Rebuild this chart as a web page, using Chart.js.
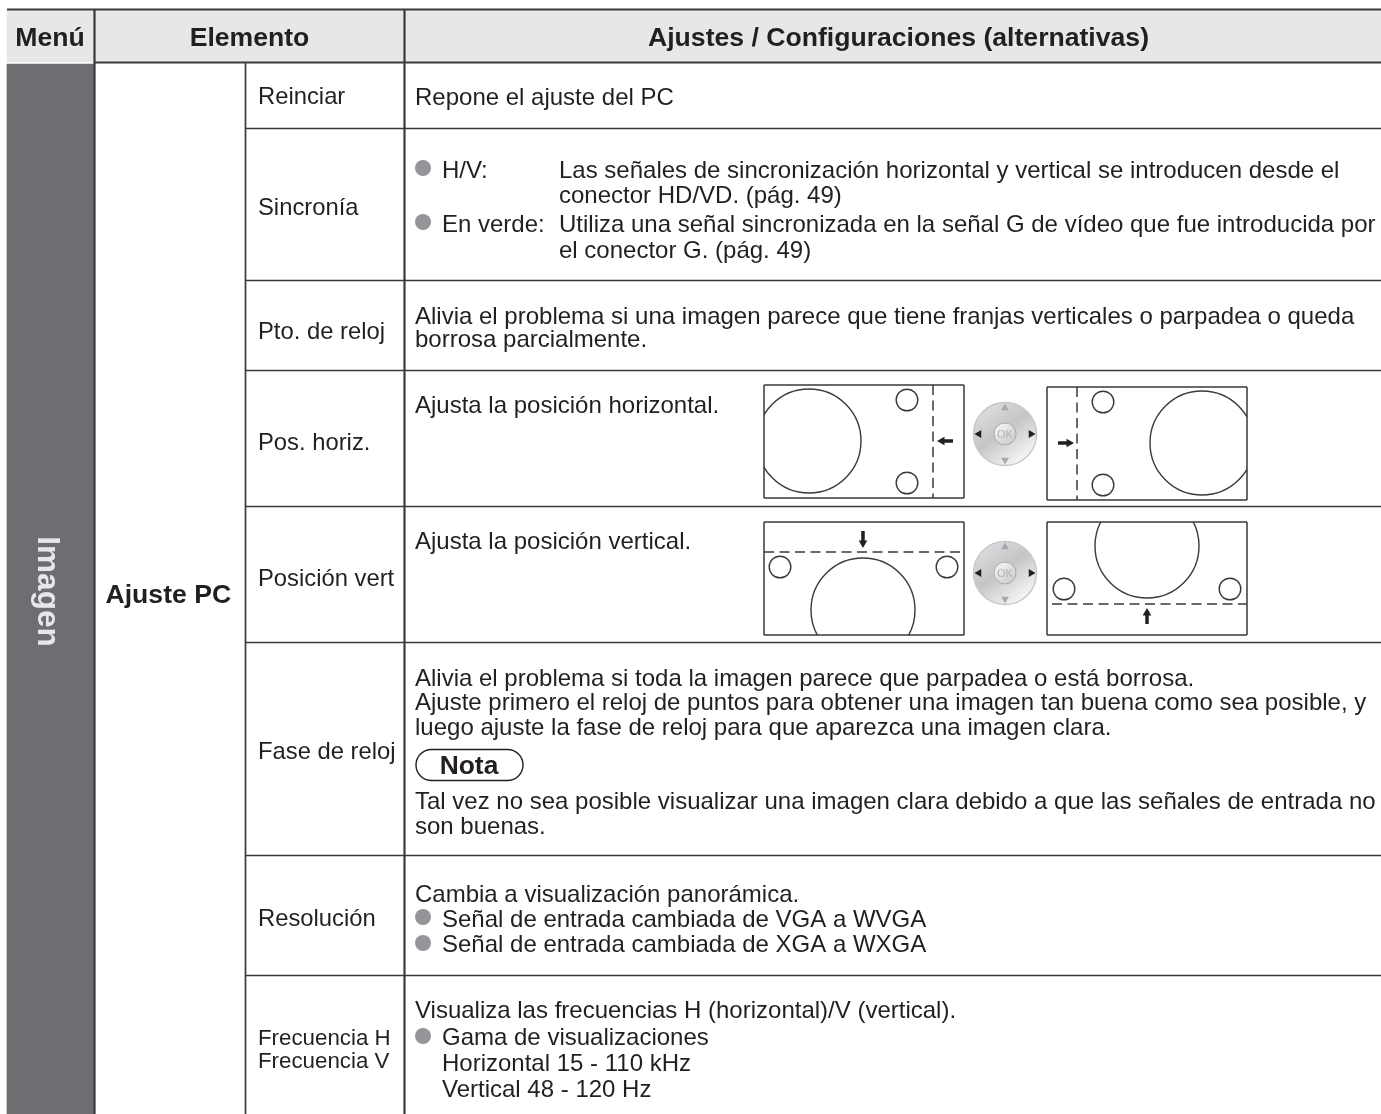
<!DOCTYPE html>
<html>
<head>
<meta charset="utf-8">
<title>Imagen - Ajuste PC</title>
<script src="https://cdn.jsdelivr.net/npm/chart.js@4"></script>
<style>
    body { margin: 0; background: #fff; }
    canvas { display: block; }
</style>
</head>
<body>
<canvas id="menuChart" width="1381" height="1114"></canvas>
<script>
// text of the table
const headerLabels = ['Menú', 'Elemento', 'Ajustes / Configuraciones (alternativas)'];
const menuLabel = 'Imagen';
const groupLabel = 'Ajuste PC';
const noteLabel = 'Nota';
const itemLabels = ['Reinciar', 'Sincronía', 'Pto. de reloj', 'Pos. horiz.', 'Posición vert', 'Fase de reloj', 'Resolución'];
const smallItemLabels = ['Frecuencia H', 'Frecuencia V'];
const detailLabels = [
    'Repone el ajuste del PC',
    'H/V:',
    'Las señales de sincronización horizontal y vertical se introducen desde el',
    'conector HD/VD. (pág. 49)',
    'En verde:',
    'Utiliza una señal sincronizada en la señal G de vídeo que fue introducida por',
    'el conector G. (pág. 49)',
    'Alivia el problema si una imagen parece que tiene franjas verticales o parpadea o queda',
    'borrosa parcialmente.',
    'Ajusta la posición horizontal.',
    'Ajusta la posición vertical.',
    'Alivia el problema si toda la imagen parece que parpadea o está borrosa.',
    'Ajuste primero el reloj de puntos para obtener una imagen tan buena como sea posible, y',
    'luego ajuste la fase de reloj para que aparezca una imagen clara.',
    'Tal vez no sea posible visualizar una imagen clara debido a que las señales de entrada no',
    'son buenas.',
    'Cambia a visualización panorámica.',
    'Señal de entrada cambiada de VGA a WVGA',
    'Señal de entrada cambiada de XGA a WXGA',
    'Visualiza las frecuencias H (horizontal)/V (vertical).',
    'Gama de visualizaciones',
    'Horizontal 15 - 110 kHz',
    'Vertical 48 - 120 Hz'
];

// where things sit on the x / y scales (both run in page pixels)
const headerX = [50, 249.5, 898.5];
const itemY = [97, 208, 332, 443, 579, 752, 919];
const smallItemY = [1039, 1062];
const detailX = [415, 442, 559, 559, 442, 559, 559, 415, 415, 415, 415, 415, 415, 415, 415, 415, 415, 442, 442, 415, 442, 442, 442];
const detailY = [98, 171, 171, 196, 225, 225, 251, 317, 340, 406, 542, 679, 703, 728, 802, 827, 895, 920, 945, 1011, 1038, 1064, 1090];
const bulletX = [423, 423, 423, 423, 423];
const bulletY = [168, 222, 917, 943, 1036];
const rowEdges = [128, 280, 370, 506, 642, 855, 975];

// picture frames: [left, top, right, bottom]
const frames = [[764, 385, 964, 498], [1047, 387, 1247, 500], [764, 522, 964, 635], [1047, 522, 1247, 635]];
const bigCircleX = [809, 1202, 863, 1147];
const bigCircleY = [441, 443, 610, 546];
const smallCircleX = [907, 907, 1103, 1103, 780, 947, 1064, 1230];
const smallCircleY = [400, 483, 402, 485, 567, 567, 589, 589];
const dividerX = [[933, 933], [1077, 1077], [764, 960], [1052, 1247]];
const dividerY = [[385, 498], [387, 500], [552, 552], [604, 604]];
const arrowX = [[953, 944], [1058, 1067], [863, 863], [1147, 1147]];
const arrowY = [[441, 441], [443, 443], [531, 541], [624, 615]];
const arrowTipX = [942, 1069, 863, 1147];
const arrowTipY = [441, 443, 543, 613];
const arrowTurn = [270, 90, 180, 0];
const padX = [1005, 1005];
const padY = [434, 573];

const INK = '#231f20';
const RULE = '#3a3a3c';
const FONT = '"Liberation Sans", Arial, sans-serif';

function makePad() {
    const c = document.createElement('canvas');
    c.width = c.height = 68;
    const g = c.getContext('2d');
    let grad = g.createLinearGradient(14, 6, 54, 62);
    grad.addColorStop(0, '#dcddde');
    grad.addColorStop(0.45, '#c4c5c7');
    grad.addColorStop(1, '#fafafa');
    g.fillStyle = grad;
    g.beginPath();
    g.arc(34, 34, 31.5, 0, Math.PI * 2);
    g.fill();
    g.strokeStyle = '#c6c8ca';
    g.lineWidth = 1.5;
    g.stroke();
    grad = g.createLinearGradient(26, 24, 42, 44);
    grad.addColorStop(0, '#f6f6f6');
    grad.addColorStop(1, '#c8c9cb');
    g.fillStyle = grad;
    g.beginPath();
    g.arc(34, 34, 11, 0, Math.PI * 2);
    g.fill();
    g.strokeStyle = '#a7a9ac';
    g.lineWidth = 1;
    g.stroke();
    return c;
}

function pairs(xs, ys) {
    return xs.map((x, i) => ({ x: x, y: ys[i] }));
}

// segments joined with null gaps so one dataset can hold them all
function segments(list) {
    const out = [];
    list.forEach(s => {
        out.push({ x: s[0], y: s[1] }, { x: s[2], y: s[3] }, { x: null, y: null });
    });
    return out;
}

const heavySegments = [
    [7, 9.5, 1381, 9.5],
    [94, 62.5, 1381, 62.5],
    [94.5, 9, 94.5, 1114],
    [404.5, 9, 404.5, 1114]
];
const lightSegments = [[245.5, 63, 245.5, 1114]].concat(rowEdges.map(y => [245, y + 0.5, 1381, y + 0.5]));

const frameSegments = [];
frames.forEach(f => {
    frameSegments.push([f[0], f[1], f[2], f[1]], [f[2], f[1], f[2], f[3]], [f[2], f[3], f[0], f[3]], [f[0], f[3], f[0], f[1]]);
});

const lineDefaults = { type: 'line', showLine: true, pointRadius: 0, fill: false, tension: 0, spanGaps: false, borderCapStyle: 'butt' };

const datasets = [];

// joystick marks, top of the stack
padX.forEach((x, i) => {
    const y = padY[i];
    datasets.push({ type: 'scatter', data: [{ x: x, y: y - 26 }], pointStyle: 'triangle', pointRadius: 4.5, pointRotation: 0, backgroundColor: '#a7a9ac', borderWidth: 0 });
    datasets.push({ type: 'scatter', data: [{ x: x, y: y + 26 }], pointStyle: 'triangle', pointRadius: 4.5, pointRotation: 180, backgroundColor: '#a7a9ac', borderWidth: 0 });
    datasets.push({ type: 'scatter', data: [{ x: x - 26, y: y }], pointStyle: 'triangle', pointRadius: 4.5, pointRotation: 270, backgroundColor: INK, borderWidth: 0 });
    datasets.push({ type: 'scatter', data: [{ x: x + 26, y: y }], pointStyle: 'triangle', pointRadius: 4.5, pointRotation: 90, backgroundColor: INK, borderWidth: 0 });
});
datasets.push({ type: 'scatter', data: pairs(padX, padY), pointStyle: makePad(), pointRadius: 34 });

// arrows
arrowTipX.forEach((x, i) => {
    datasets.push({ type: 'scatter', data: [{ x: x, y: arrowTipY[i] }], pointStyle: 'triangle', pointRadius: 5, pointRotation: arrowTurn[i], backgroundColor: INK, borderWidth: 0 });
    datasets.push(Object.assign({}, lineDefaults, { data: pairs(arrowX[i], arrowY[i]), borderColor: INK, borderWidth: 3.5 }));
});

// dashed dividers
dividerX.forEach((xs, i) => {
    datasets.push(Object.assign({}, lineDefaults, { data: pairs(xs, dividerY[i]), borderColor: RULE, borderWidth: 1.5, borderDash: [10, 5.5] }));
});

// frames and circles
datasets.push(Object.assign({}, lineDefaults, { data: segments(frameSegments), borderColor: RULE, borderWidth: 1.5 }));
datasets.push({
    type: 'scatter', data: pairs(smallCircleX, smallCircleY), pointRadius: 10.8,
    pointBackgroundColor: 'rgba(0,0,0,0)', pointBorderColor: RULE, pointBorderWidth: 1.4
});
bigCircleX.forEach((x, i) => {
    const f = frames[i];
    datasets.push({
        type: 'scatter', data: [{ x: x, y: bigCircleY[i] }], pointRadius: 52,
        pointBackgroundColor: 'rgba(0,0,0,0)', pointBorderColor: RULE, pointBorderWidth: 1.4,
        clip: { left: -f[0], top: -f[1], right: f[2] - 1381, bottom: f[3] - 1114 }
    });
});

// bullets
datasets.push({ type: 'scatter', data: pairs(bulletX, bulletY), pointRadius: 8, pointBackgroundColor: '#939598', pointBorderWidth: 0 });

// table rules
datasets.push(Object.assign({}, lineDefaults, { data: segments(heavySegments), borderColor: RULE, borderWidth: 2.2 }));
datasets.push(Object.assign({}, lineDefaults, { data: segments(lightSegments), borderColor: RULE, borderWidth: 1.7 }));

// shaded bands
datasets.push({ type: 'bar', data: [{ x: 50.5, y: [64, 1114] }], backgroundColor: '#6d6e71', barThickness: 87, grouped: false });
datasets.push({ type: 'bar', data: [{ x: 694, y: [10, 62] }], backgroundColor: '#e6e7e8', barThickness: 1374, grouped: false });

const tableText = {
    id: 'tableText',
    afterDatasetsDraw(chart) {
        const ctx = chart.ctx;
        const x = chart.scales.x;
        const y = chart.scales.y;
        const put = (text, px, py) => ctx.fillText(text, x.getPixelForValue(px), y.getPixelForValue(py));
        ctx.save();
        ctx.fillStyle = INK;
        ctx.textBaseline = 'middle';

        ctx.font = 'bold 26.6px ' + FONT;
        ctx.textAlign = 'center';
        headerLabels.forEach((t, i) => put(t, headerX[i], 39));
        ctx.textAlign = 'left';
        put(groupLabel, 105.5, 596);

        ctx.font = '23.8px ' + FONT;
        itemLabels.forEach((t, i) => put(t, 258, itemY[i]));
        ctx.font = '22.3px ' + FONT;
        smallItemLabels.forEach((t, i) => put(t, 258, smallItemY[i]));

        ctx.font = '24px ' + FONT;
        detailLabels.forEach((t, i) => put(t, detailX[i], detailY[i]));

        // pad button caption
        ctx.font = '11px ' + FONT;
        ctx.fillStyle = '#b0b2b4';
        ctx.textAlign = 'center';
        padX.forEach((px, i) => put('OK', px, padY[i] + 0.5));

        // note pill
        const l = x.getPixelForValue(416);
        const t = y.getPixelForValue(749.5);
        ctx.beginPath();
        ctx.roundRect(l, t, 107, 31, 15.5);
        ctx.strokeStyle = INK;
        ctx.lineWidth = 1.4;
        ctx.stroke();
        ctx.fillStyle = INK;
        ctx.font = 'bold 26.4px ' + FONT;
        put(noteLabel, 469, 767);

        // sideways menu title
        ctx.translate(x.getPixelForValue(38), y.getPixelForValue(591.5));
        ctx.rotate(Math.PI / 2);
        ctx.fillStyle = '#e6e7e8';
        ctx.textBaseline = 'alphabetic';
        ctx.font = 'bold 31.5px ' + FONT;
        ctx.fillText(menuLabel, 0, 0);
        ctx.restore();
    }
};

new Chart(document.getElementById('menuChart'), {
    type: 'scatter',
    data: { datasets: datasets },
    options: {
        responsive: false,
        animation: false,
        events: [],
        layout: { padding: 0, autoPadding: false },
        plugins: { legend: { display: false }, tooltip: { enabled: false } },
        scales: {
            x: { type: 'linear', min: 0, max: 1381, offset: false, display: false },
            y: { type: 'linear', min: 0, max: 1114, reverse: true, display: false }
        }
    },
    plugins: [tableText]
});
</script>
</body>
</html>
